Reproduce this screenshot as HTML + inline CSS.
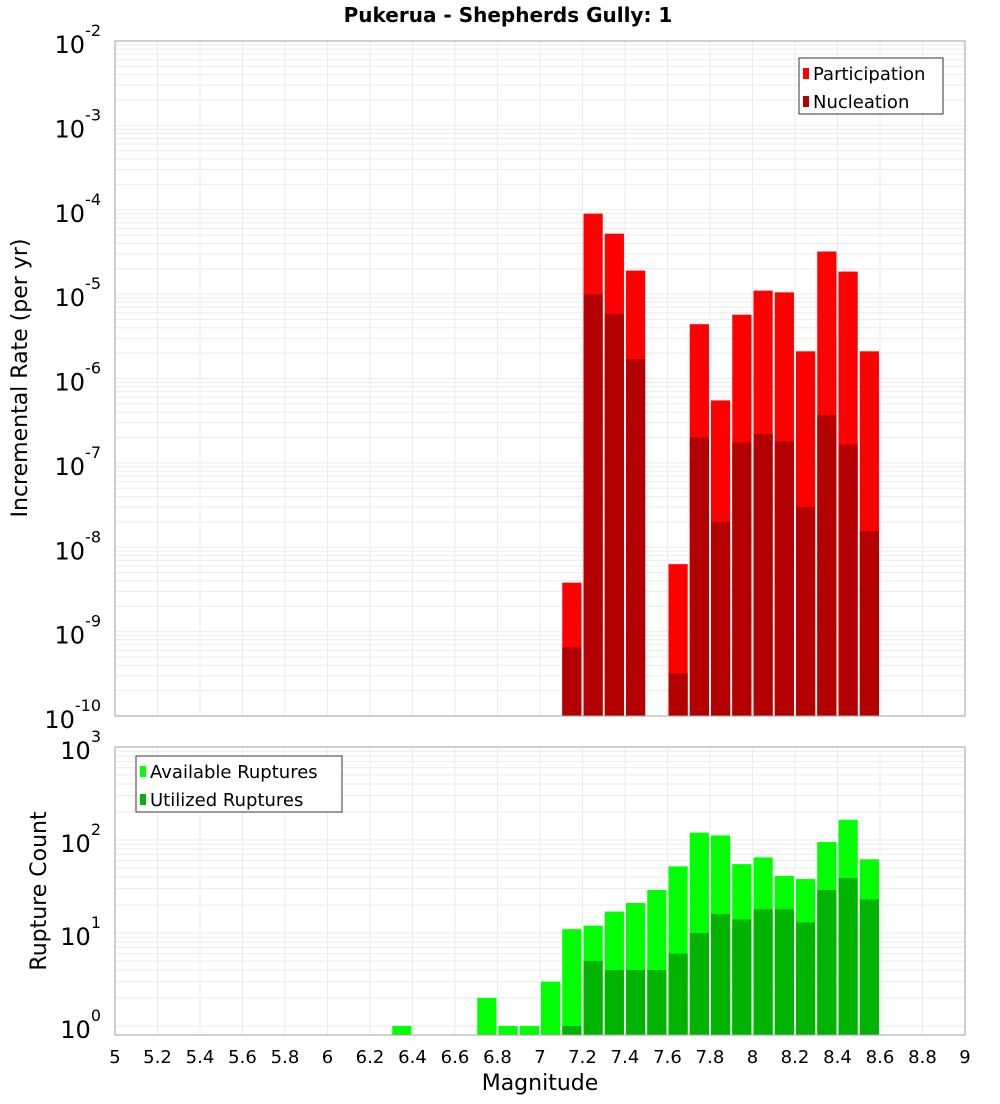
<!DOCTYPE html>
<html><head><meta charset="utf-8"><style>
body{margin:0;background:#fff;font-family:"DejaVu Sans","Liberation Sans",sans-serif}
svg text{font-family:"DejaVu Sans","Liberation Sans",sans-serif}
</style></head><body>
<svg id="c" width="1000" height="1100" xmlns="http://www.w3.org/2000/svg">
<rect width="1000" height="1100" fill="#fff"/>
<text x="508" y="22" text-anchor="middle" font-size="20" font-weight="bold">Pukerua - Shepherds Gully: 1</text>
<g id="top"></g>
<g id="bot"></g>
<text transform="translate(27,378) rotate(-90)" text-anchor="middle" font-size="22">Incremental Rate (per yr)</text>
<text transform="translate(46,891) rotate(-90)" text-anchor="middle" font-size="22">Rupture Count</text>
<text x="540" y="1090" text-anchor="middle" font-size="22">Magnitude</text>
</svg>
<script>
const topBins=[7.15,7.25,7.35,7.45,7.65,7.75,7.85,7.95,8.05,8.15,8.25,8.35,8.45,8.55];
const participation=[3.8e-9,9e-5,5.2e-5,1.9e-5,6.3e-9,4.4e-6,5.5e-7,5.7e-6,1.1e-5,1.05e-5,2.1e-6,3.2e-5,1.85e-5,2.1e-6];
const nucleation=[6.5e-10,1e-5,5.8e-6,1.7e-6,3.2e-10,2e-7,2e-8,1.75e-7,2.2e-7,1.8e-7,3e-8,3.7e-7,1.65e-7,1.55e-8];
const botBins=[6.35,6.75,6.85,6.95,7.05,7.15,7.25,7.35,7.45,7.55,7.65,7.75,7.85,7.95,8.05,8.15,8.25,8.35,8.45,8.55];
const available=[1,2,1,1,3,11,12,17,21,29,52,120,112,55,65,41,38,95,165,62];
const utilized=[0,0,0,0,0,1,5,4,4,4,6,10,16,14,18,18,13,29,39,23];
const xTicks=[5,5.2,5.4,5.6,5.8,6,6.2,6.4,6.6,6.8,7,7.2,7.4,7.6,7.8,8,8.2,8.4,8.6,8.8,9];
const topExps=[-10,-9,-8,-7,-6,-5,-4,-3,-2];
const botExps=[0,1,2,3];
const NS='http://www.w3.org/2000/svg';
const X0=115,X1=965;
const xs=m=>X0+(m-5)*(X1-X0)/4;
const yTop=v=>41+(-2-Math.log10(v))*84.375;
const yBot=v=>1026-93*Math.log10(v);
function mk(p,tag,a){const e=document.createElementNS(NS,tag);for(const k in a)e.setAttribute(k,a[k]);p.appendChild(e);return e;}
function panel(g,y0,y1,exps,ys,name){
  mk(g,'rect',{x:X0,y:y0,width:X1-X0,height:y1-y0,fill:'#fff'});
  for(let i=0;i<exps.length;i++){for(let k=1;k<10;k++){const y=ys(k*Math.pow(10,exps[i]));if(y<y0||y>y1)continue;
    const l=mk(g,'line',{x1:X0,x2:X1,y1:y,y2:y,stroke:'#ebebeb','stroke-width':1});
    
    }}
  for(const t of xTicks){const x=xs(t);const l=mk(g,'line',{x1:x,x2:x,y1:y0,y2:y1,stroke:'#ebebeb'});
    
    }
  for(const e of exps){const y=ys(Math.pow(10,e));
    const t=mk(g,'text',{x:101,y:y+12,'text-anchor':'end','font-size':24});t.textContent='10';
    
    
    const s=mk(t,'tspan',{dy:-17,'font-size':16});s.textContent=String(e);}
}
function frame(g,y0,y1){mk(g,'rect',{x:X0,y:y0,width:X1-X0,height:y1-y0,fill:'none',stroke:'#a0a0a0'});}
function bars(g,bins,vals,ys,base,color,name){
  for(let i=0;i<bins.length;i++){if(!(vals[i]>0))continue;const x=xs(bins[i]-0.05)+1;const y=ys(vals[i]);
    const r=mk(g,'rect',{x:x,y:y,width:19.2,height:base-y,fill:color});
    
    }
}
function legend(g,x,y,w,items,name){
  mk(g,'rect',{x:x,y:y,width:w,height:56,fill:'#fff',stroke:'#333'});
  items.forEach((it,i)=>{mk(g,'rect',{x:x+4,y:y+10+i*28,width:6,height:11,fill:it[1]});
    const t=mk(g,'text',{x:x+14,y:y+22+i*28,'font-size':18});t.textContent=it[0];
    
    });
}
const gt=document.getElementById('top'),gb=document.getElementById('bot');
panel(gt,41,716,topExps,yTop,'top');
bars(gt,topBins,participation,yTop,716,'#ff0000','participation');
bars(gt,topBins,nucleation,yTop,716,'#b30000','nucleation');
frame(gt,41,716);
legend(gt,799,58,144,[['Participation','#ff0000'],['Nucleation','#b30000']],'top');
panel(gb,747,1035,botExps,yBot,'bottom');
bars(gb,botBins,available,yBot,1035,'#00ff00','available');
bars(gb,botBins,utilized,yBot,1035,'#00b300','utilized');
frame(gb,747,1035);
legend(gb,136,756,206,[['Available Ruptures','#00ff00'],['Utilized Ruptures','#00b300']],'bottom');
for(const t of xTicks){const tx=mk(gb,'text',{x:xs(t),y:1063,'text-anchor':'middle','font-size':18});tx.textContent=String(t);
  
  }
</script>
</body></html>
